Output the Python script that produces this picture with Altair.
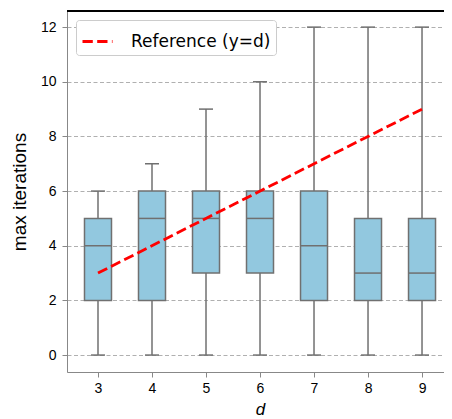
import altair as alt
import pandas as pd

d_vals = [3, 4, 5, 6, 7, 8, 9]
mins = [0, 0, 0, 0, 0, 0, 0]
q1s = [2, 2, 3, 3, 2, 2, 2]
medians = [4, 5, 5, 5, 4, 3, 3]
q3s = [5, 6, 6, 6, 6, 5, 5]
maxs = [6, 7, 9, 10, 12, 12, 12]

ref_x = [3, 9]
ref_y = [3, 9]
ref_label = "Reference (y=d)"

y_ticks = [0, 2, 4, 6, 8, 10, 12]

box_df = pd.DataFrame({"d": d_vals, "lo": mins, "q1": q1s, "med": medians, "q3": q3s, "hi": maxs})
ref_df = pd.DataFrame({"d": ref_x, "v": ref_y, "series": [ref_label] * len(ref_x)})

FILL = "#92c8df"
EDGE = "#707070"
FONT = "DejaVu Sans"
W, H = 377, 361

xs = alt.Scale(domain=[2.426, 9.407], nice=False, zero=False, padding=0)
ys = alt.Scale(domain=[-0.62, 12.59], nice=False, zero=False, padding=0)

x_enc = alt.X("d:Q", scale=xs, axis=alt.Axis(
    values=d_vals, title="d", grid=False, format="d",
    titleFontStyle="italic", titleFontSize=17, titleFontWeight="normal",
    titleBaseline="alphabetic", titleY=42, titleX=193, titleColor="black",
    labelFontSize=14, labelPadding=4, tickSize=5, labelColor="black",
))
y_axis = alt.Axis(
    values=y_ticks, title="max iterations", grid=True, gridDash=[4, 2.5],
    gridColor="#b0b0b0", gridWidth=1,
    titleFontSize=19, titleFontWeight="normal", titleBaseline="alphabetic",
    titleX=-42, titleY=180.5, titleAngle=270, titleColor="black",
    labelFontSize=14, labelPadding=6, tickSize=5, labelColor="black",
)

base = alt.Chart(box_df)

whisk_lo = base.mark_rule(color=EDGE, strokeWidth=1.5).encode(
    x=x_enc, y=alt.Y("lo:Q", scale=ys, axis=y_axis), y2="q1:Q")
whisk_hi = base.mark_rule(color=EDGE, strokeWidth=1.5).encode(
    x="d:Q", y=alt.Y("q3:Q", scale=ys), y2="hi:Q")
cap_lo = base.mark_tick(orient="horizontal", size=14, thickness=1.5, color=EDGE, opacity=1).encode(
    x="d:Q", y=alt.Y("lo:Q", scale=ys))
cap_hi = base.mark_tick(orient="horizontal", size=14, thickness=1.5, color=EDGE, opacity=1).encode(
    x="d:Q", y=alt.Y("hi:Q", scale=ys))
boxes = base.mark_bar(size=27, fill=FILL, stroke=EDGE, strokeWidth=1.5, opacity=1).encode(
    x="d:Q", y=alt.Y("q1:Q", scale=ys), y2="q3:Q")
med = base.mark_tick(orient="horizontal", size=27, thickness=1.5, color=EDGE, opacity=1).encode(
    x="d:Q", y=alt.Y("med:Q", scale=ys))

ref = alt.Chart(ref_df).mark_line(strokeWidth=2.8, strokeDash=[10.3, 4.4]).encode(
    x="d:Q", y=alt.Y("v:Q", scale=ys),
    color=alt.Color("series:N", scale=alt.Scale(domain=[ref_label], range=["red"]),
                    legend=alt.Legend(title=None, orient="none", legendX=9, legendY=9,
                                      symbolType="stroke", symbolSize=900,
                                      symbolStrokeWidth=2.8, symbolDash=[10.3, 4.4],
                                      labelFontSize=17, labelFont=FONT, labelColor="black",
                                      labelOffset=17, fillColor="white", strokeColor="#cccccc",
                                      cornerRadius=3, padding=5)),
)

top_spine = alt.Chart(box_df).mark_rule(color="black", strokeWidth=1.25).encode(
    y=alt.value(0), x=alt.value(0), x2=alt.value(W + 2))

chart = alt.layer(whisk_lo, whisk_hi, cap_lo, cap_hi, boxes, med, ref, top_spine).properties(
    width=W, height=H,
    autosize=alt.AutoSizeParams(type="none"),
    padding={"left": 59, "top": 3, "right": 0, "bottom": 47},
).configure_view(stroke=None).configure_axis(
    domainColor="black", domainWidth=1.25, tickColor="black", tickWidth=1.25,
    labelFont=FONT, titleFont=FONT,
).configure(background="white")

chart.save("out.html", embed_options={"renderer": "svg", "actions": False})
